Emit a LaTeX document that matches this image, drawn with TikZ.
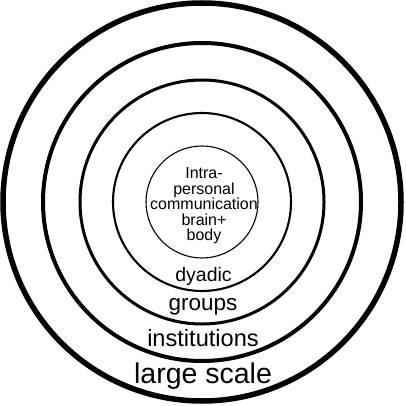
\documentclass[tikz,border=0pt]{standalone}
\usepackage{fontspec}
\setmainfont{Liberation Sans}
\tikzset{
  ring/.style={draw=black, circle, inner sep=0pt, fill=none},
  lbl/.style={anchor=base, inner sep=0pt, text=black}
}
\begin{document}
\begin{tikzpicture}[x=1pt,y=-1pt]
\useasboundingbox[fill=white] (0,0) rectangle (406,406);
\coordinate (c) at (202,202);
\node[ring, line width=5.5pt, minimum size=398pt] (large) at (c) {};
\node[ring, line width=4pt, minimum size=318pt] (inst) at (c) {};
\node[ring, line width=3pt, minimum size=244pt] (grp) at (c) {};
\node[ring, line width=2.1pt, minimum size=178pt] (dya) at (c) {};
\node[ring, line width=1.1pt, minimum size=112pt] (intra) at (c) {};
\node[align=center, inner sep=0pt, font=\fontsize{16}{15.4}\selectfont] (intratext) at (204,205.8) {Intra-\\personal\\communication\\brain+\\body};
\node[lbl, font=\fontsize{19.5}{22}\selectfont] (dyadic) at (203.5,281.7) {dyadic};
\node[lbl, font=\fontsize{22.5}{26}\selectfont] (groups) at (203,310) {groups};
\node[lbl, font=\fontsize{23.6}{28}\selectfont] (institutions) at (203,346.2) {institutions};
\node[lbl, font=\fontsize{28.5}{32}\selectfont] (largescale) at (203,383.5) {large scale};
\end{tikzpicture}
\end{document}
